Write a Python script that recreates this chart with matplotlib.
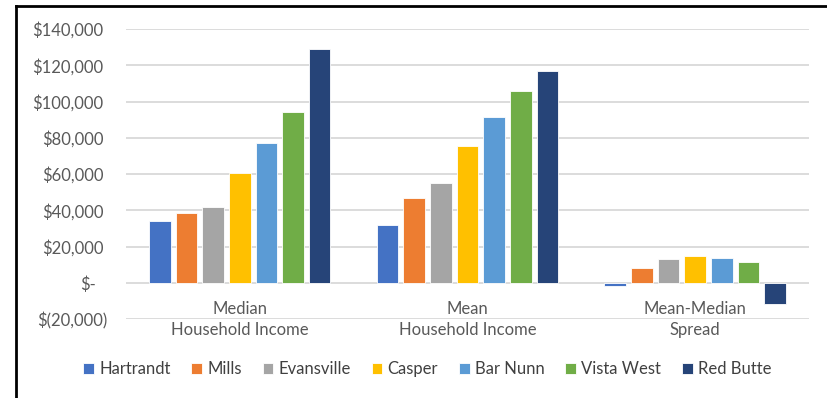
import numpy as np
import matplotlib.pyplot as plt
from matplotlib.lines import Line2D
from matplotlib.ticker import FuncFormatter
import matplotlib.transforms as mtransforms

plt.rcParams['font.family'] = ['Lato', 'DejaVu Sans']

groups = ['Median\nHousehold Income', 'Mean\nHousehold Income', 'Mean-Median\nSpread']
towns = ['Hartrandt', 'Mills', 'Evansville', 'Casper', 'Bar Nunn', 'Vista West', 'Red Butte']
median_income = [34000, 38500, 41800, 60400, 77300, 94300, 128800]
mean_income = [32000, 46800, 55200, 75300, 91200, 106000, 117000]
spread = [-2000, 8200, 13000, 14500, 13800, 11300, -11800]
colors = ['#4472C4', '#ED7D31', '#A5A5A5', '#FFC000', '#5B9BD5', '#70AD47', '#264478']

values = np.array([median_income, mean_income, spread]).T  # rows = towns

fig = plt.figure(figsize=(8.28, 3.98), dpi=100)
ax = fig.add_axes([0.152, 0.1985, 0.825, 0.7285])

x = np.arange(len(groups))
step = 0.117
width = 0.095
for i, (town, col) in enumerate(zip(towns, colors)):
    off = (i - 3) * step
    ax.bar(x + off, values[i], width=width, color=col, edgecolor='white',
           linewidth=0.6, label=town, zorder=3)

ax.set_xlim(-0.5, 2.5)
ax.set_ylim(-20000, 140000)
ax.set_yticks(np.arange(-20000, 140001, 20000))


def money(v, pos):
    if v == 0:
        return '$-'
    if v < 0:
        return '$({:,.0f})'.format(-v)
    return '${:,.0f}'.format(v)


ax.yaxis.set_major_formatter(FuncFormatter(money))
ax.grid(axis='y', color='#D9D9D9', linewidth=1.3, zorder=0)
for s in ax.spines.values():
    s.set_visible(False)

ax.spines['bottom'].set_position(('data', 0))
ax.set_xticks(x)
ax.set_xticklabels(groups, linespacing=1.4)
ax.tick_params(axis='x', length=0, pad=13, labelsize=12, labelcolor='#595959')
ax.tick_params(axis='y', length=0, pad=16, labelsize=12, labelcolor='#595959')

# accounting-style alignment: shift the bracket and dash labels
fig.canvas.draw()
for lab in ax.get_yticklabels():
    t = lab.get_text()
    dx = 0
    if t.startswith('$('):
        dx = 4
    elif t == '$-':
        dx = -8
    if dx:
        lab.set_transform(lab.get_transform() +
                          mtransforms.ScaledTranslation(dx / 100, 0, fig.dpi_scale_trans))

fig.legend(loc='center', bbox_to_anchor=(0.516, 0.072), ncol=7, frameon=False,
           fontsize=12, handlelength=0.65, handleheight=0.65, handletextpad=0.3,
           columnspacing=1.25, labelcolor='#404040')

# outer frame lines
fig.add_artist(Line2D([0.0195, 0.0195], [0, 0.985], color='black', linewidth=2,
                      transform=fig.transFigure))
fig.add_artist(Line2D([0.0195, 1.0], [0.985, 0.985], color='black', linewidth=2,
                      transform=fig.transFigure))

fig.savefig('out.png', dpi=100)
